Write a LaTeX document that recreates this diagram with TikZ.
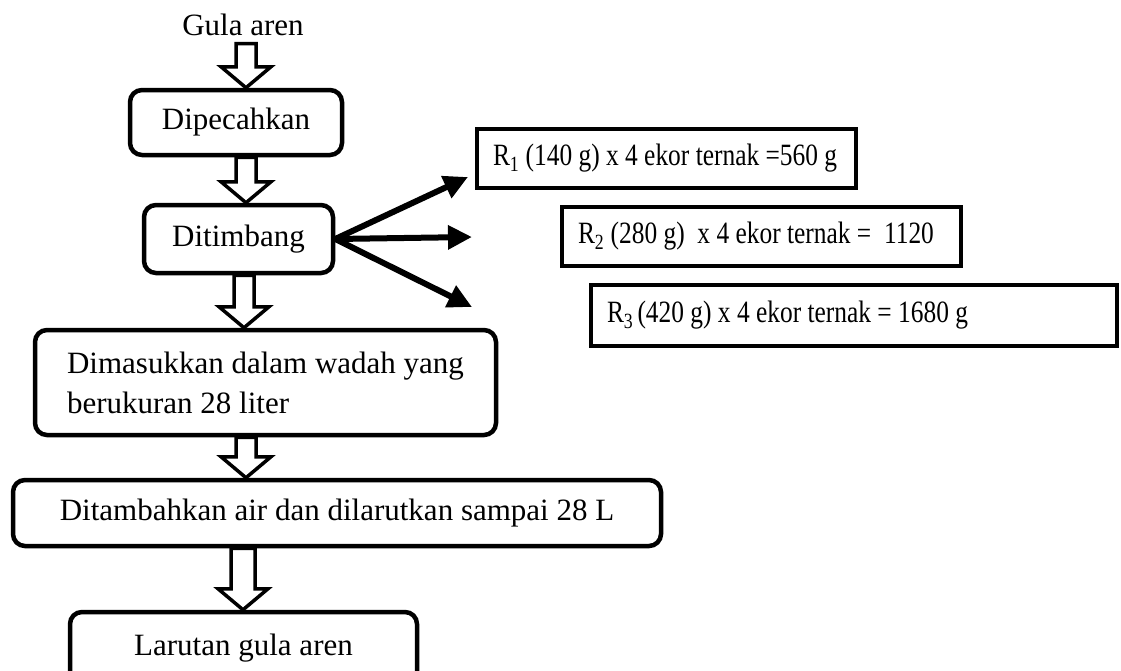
\documentclass[tikz,border=0pt]{standalone}
\usepackage{fontspec}
\usepackage{graphicx}
\setmainfont{Liberation Serif}
\usetikzlibrary{arrows.meta,calc}
\tikzset{
  txt/.style={font=\fontsize{31}{40}\selectfont},
  box/.style={txt, draw, line width=4.5, rounded corners=12, inner sep=0, align=center},
  rbox/.style={txt, draw, line width=4.5, inner sep=0},
  hollow/.style={draw, line width=3.5, fill=white, line join=miter},
  fork/.style={line width=6, -{Triangle[length=24pt,width=23pt]}},
}
% #1 x column, #2 from node, #3 to node, #4 half shaft width
\newcommand\hollowarrow[4]{%
  \draw[hollow] let \p1=(#2.south), \p2=(#3.north) in
    (#1pt-#4pt,\y1) -- (#1pt+#4pt,\y1) -- (#1pt+#4pt,\y2+21pt) -- (#1pt+25pt,\y2+21pt)
    -- (#1pt,\y2) -- (#1pt-25pt,\y2+21pt) -- (#1pt-#4pt,\y2+21pt) -- cycle;}
\newcommand\rtext[2]{\makebox[#1][l]{\scalebox{0.82}[1]{#2}}}
\begin{document}
\begin{tikzpicture}[x=1pt,y=-1pt]
\useasboundingbox (0,0) rectangle (1121,670);
\clip (0,0) rectangle (1121,670);
\node[txt, inner xsep=0, inner ysep=8, anchor=base] (gula) at (243,35) {Gula aren};
\node[box, minimum width=212, minimum height=65] (dip) at (236,122.5) {Dipecahkan};
\node[box, minimum width=189, minimum height=68] (tim) at (238.5,239) {Ditimbang};
\node[box, minimum width=461, minimum height=105, align=left] (mas) at (265.5,382.5) {Dimasukkan dalam wadah yang\\berukuran 28 liter};
\node[box, minimum width=648, minimum height=66] (tam) at (337,513) {Ditambahkan air dan dilarutkan sampai 28 L};
\node[box, minimum width=347, minimum height=72] (lar) at (243.5,648) {Larutan gula aren};

\node[rbox, minimum width=379, minimum height=59] (r1) at (666.5,158.5) {\rtext{347pt}{R\textsubscript{1} (140 g) x 4 ekor ternak =560 g}};
\node[rbox, minimum width=399, minimum height=59] (r2) at (761.5,236.5) {\rtext{367pt}{R\textsubscript{2} (280 g) \ x 4 ekor ternak = \ 1120}};
\node[rbox, minimum width=526, minimum height=61] (r3) at (854,315.5) {\rtext{494pt}{R\textsubscript{3}\,(420 g) x 4 ekor ternak = 1680 g}};

\hollowarrow{246}{gula}{dip}{10}
\hollowarrow{246}{dip}{tim}{10}
\hollowarrow{244}{tim}{mas}{10}
\hollowarrow{246}{mas}{tam}{10}
\hollowarrow{243}{tam}{lar}{12}

\coordinate (e1) at (468,177);
\coordinate (e2) at (472,237);
\coordinate (e3) at (472,307);
\draw[fork] (tim.east) -- (e1);
\draw[fork] (tim.east) -- (e2);
\draw[fork] (tim.east) -- (e3);
\end{tikzpicture}
\end{document}
